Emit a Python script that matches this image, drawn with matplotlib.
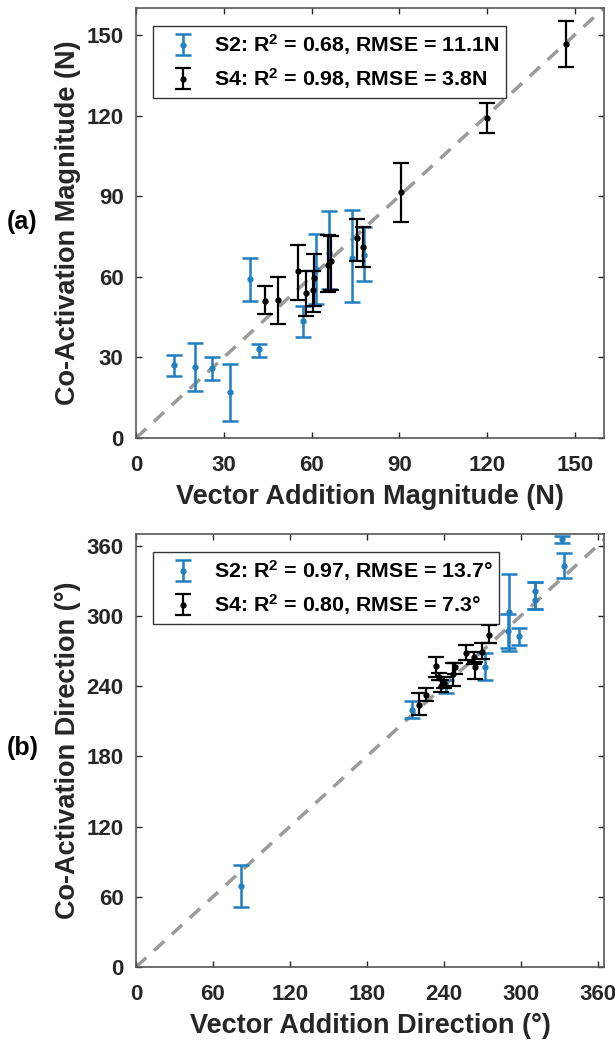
import numpy as np
import matplotlib.pyplot as plt

plt.rcParams['font.family'] = 'Liberation Sans'
plt.rcParams['font.weight'] = 'bold'
plt.rcParams['mathtext.default'] = 'regular'

BLUE = '#1f7fc0'
GRAY = '#9a9a9a'

# (a) magnitude data
s2_mag_x = [13, 20, 26, 32, 39, 42, 57, 61.5, 66, 74, 78]
s2_mag_y = [27, 26.5, 26, 17, 59, 33, 43.5, 63, 69, 67, 68]
s2_mag_lo = [23, 17.5, 21.5, 6.5, 51, 30, 37.5, 50, 55.5, 50.5, 58.5]
s2_mag_hi = [31, 35.5, 30, 27.5, 67, 35, 49, 76, 84.5, 85, 78.5]

s4_mag_x = [44, 48.5, 55.5, 58, 60.5, 61, 65.5, 66.5, 75.5, 77.5, 90.5, 120, 147]
s4_mag_y = [51, 51.5, 62, 54, 55, 59.5, 64.5, 66, 74.5, 71, 91.5, 119, 146.5]
s4_mag_lo = [46, 42.5, 51.5, 45.5, 47, 49, 54.5, 55, 66, 63.5, 80.5, 113.5, 138]
s4_mag_hi = [56.5, 60, 72, 62, 62, 68.5, 75.5, 75, 81.5, 78.5, 102.5, 124.5, 155]

# (b) direction data
s2_dir_x = [82, 215, 241.5, 272, 290, 291, 299, 311, 311.5, 332, 333.5]
s2_dir_y = [69, 219.5, 240, 256, 287, 303, 283, 314, 321.5, 366, 343]
s2_dir_lo = [51, 212.5, 234, 245, 273, 270, 275.5, 306, 306, 362.5, 332]
s2_dir_hi = [87, 227, 245, 268, 302, 336, 290, 329, 329, 368.5, 354]

s4_dir_x = [221, 226.5, 234, 236, 237.5, 240, 247.5, 249, 257, 264, 264.5, 270, 275]
s4_dir_y = [224, 232, 257, 247.5, 240, 243, 250, 256, 268, 264.5, 256, 269.5, 284]
s4_dir_lo = [215, 227, 247.5, 245, 235, 238, 240.5, 250, 262, 259, 246.5, 263, 276.5]
s4_dir_hi = [234, 238, 264.5, 251, 245, 248, 259.5, 260, 275, 269, 261, 276.5, 292.5]

fig = plt.figure(figsize=(6.15, 10.5), dpi=100)
ax1 = fig.add_axes([136/615, 1 - 438/1050, 468/615, 430/1050])
ax2 = fig.add_axes([136/615, 1 - 967/1050, 468/615, 433/1050])


def draw(ax, x2, y2, lo2, hi2, x4, y4, lo4, hi4, lim, ticks, labels, xlabel, ylabel):
    ax.plot([0, lim[0] + 10], [0, lim[0] + 10], ls=(0, (4, 3)), color=GRAY, lw=2.5, zorder=1)
    y2 = np.array(y2)
    y4 = np.array(y4)
    e2 = [y2 - np.array(lo2), np.array(hi2) - y2]
    e4 = [y4 - np.array(lo4), np.array(hi4) - y4]
    h2 = ax.errorbar(x2, y2, yerr=e2, fmt='o', ms=3.5, color=BLUE, ecolor=BLUE,
                     elinewidth=1.8, capsize=6, capthick=1.8, zorder=3)
    h4 = ax.errorbar(x4, y4, yerr=e4, fmt='o', ms=3.5, color='black', ecolor='black',
                     elinewidth=1.6, capsize=6, capthick=1.6, zorder=4)
    ax.set_xlim(0, lim[0])
    ax.set_ylim(0, lim[1])
    ax.set_xticks(ticks)
    ax.set_yticks(ticks)
    ax.tick_params(direction='in', length=4, width=1, top=True, right=True,
                   labelsize=16, colors='#262626')
    ax.tick_params(axis='x', pad=12)
    ax.tick_params(axis='y', pad=9)
    for lab in ax.get_xticklabels() + ax.get_yticklabels():
        lab.set_fontweight('bold')
    for sp in ax.spines.values():
        sp.set_color('#555555')
        sp.set_linewidth(1.2)
    ax.set_xlabel(xlabel, fontsize=19.5, fontweight='bold', color='#262626', labelpad=6)
    ax.set_ylabel(ylabel, fontsize=19.5, fontweight='bold', color='#262626', labelpad=4)
    leg = ax.legend([h2, h4], labels, loc='upper left',
                    bbox_to_anchor=(17/468, 1 - 18/430), borderaxespad=0,
                    fontsize=15.4, frameon=True, fancybox=False, handlelength=2.2,
                    handletextpad=0.35, borderpad=0.3, labelspacing=0.42)
    leg.get_frame().set_edgecolor('black')
    leg.get_frame().set_linewidth(1.0)
    for t in leg.get_texts():
        t.set_fontweight('bold')


draw(ax1, s2_mag_x, s2_mag_y, s2_mag_lo, s2_mag_hi,
     s4_mag_x, s4_mag_y, s4_mag_lo, s4_mag_hi,
     (160, 160), [0, 30, 60, 90, 120, 150],
     ['S2: R$^2$ = 0.68, RMSE = 11.1N', 'S4: R$^2$ = 0.98, RMSE = 3.8N'],
     'Vector Addition Magnitude (N)', 'Co-Activation Magnitude (N)')

draw(ax2, s2_dir_x, s2_dir_y, s2_dir_lo, s2_dir_hi,
     s4_dir_x, s4_dir_y, s4_dir_lo, s4_dir_hi,
     (365, 370), [0, 60, 120, 180, 240, 300, 360],
     ['S2: R$^2$ = 0.97, RMSE = 13.7°', 'S4: R$^2$ = 0.80, RMSE = 7.3°'],
     'Vector Addition Direction (°)', 'Co-Activation Direction (°)')

fig.text(7/615, 1 - 222/1050, '(a)', fontsize=18, fontweight='bold', ha='left', va='center')
fig.text(7/615, 1 - 748/1050, '(b)', fontsize=18, fontweight='bold', ha='left', va='center')

fig.savefig('out.png', dpi=100)
